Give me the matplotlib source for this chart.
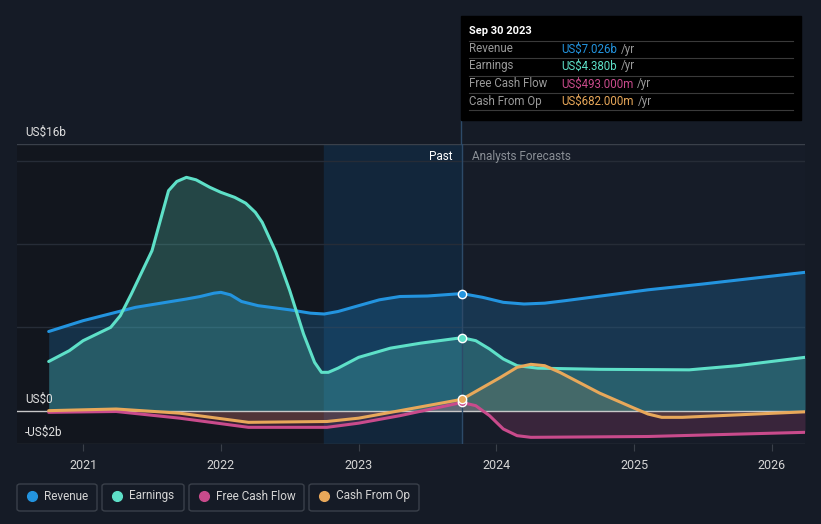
import matplotlib
matplotlib.use("Agg")
import matplotlib.pyplot as plt
from matplotlib.patches import FancyBboxPatch, Rectangle

plt.rcParams['font.family'] = ['Roboto', 'DejaVu Sans']

# data (US$ billions), x in decimal years
rev_x = [2020.75, 2021.0, 2021.38, 2021.75, 2021.85, 2021.95, 2022.0, 2022.07, 2022.15, 2022.27,
         2022.5, 2022.65, 2022.75, 2022.85, 2023.0, 2023.15, 2023.3, 2023.5, 2023.75, 2023.9,
         2024.05, 2024.2, 2024.35, 2024.5, 2025.1, 2025.5, 2026.24]
rev_y = [4.75, 5.4, 6.2, 6.7, 6.85, 7.05, 7.1, 6.95, 6.55, 6.3,
         6.05, 5.85, 5.8, 5.95, 6.3, 6.65, 6.85, 6.88, 7.026, 6.8,
         6.5, 6.4, 6.45, 6.6, 7.25, 7.6, 8.3]

earn_x = [2020.75, 2020.9, 2021.0, 2021.1, 2021.2, 2021.27, 2021.35, 2021.5, 2021.62, 2021.68,
          2021.75, 2021.82, 2021.92, 2022.0, 2022.1, 2022.18, 2022.25, 2022.3, 2022.4, 2022.5,
          2022.6, 2022.68, 2022.73, 2022.78, 2022.85, 2023.0, 2023.23, 2023.45, 2023.75, 2023.85,
          2023.95, 2024.05, 2024.15, 2024.3, 2024.75, 2025.4, 2025.75, 2026.24]
earn_y = [2.95, 3.6, 4.2, 4.6, 5.0, 5.7, 7.0, 9.6, 13.2, 13.75,
          14.0, 13.85, 13.4, 13.1, 12.8, 12.45, 11.9, 11.3, 9.5, 7.2,
          4.6, 2.9, 2.3, 2.3, 2.55, 3.2, 3.75, 4.05, 4.38, 4.2,
          3.7, 3.1, 2.7, 2.55, 2.48, 2.45, 2.7, 3.2]

fcf_x = [2020.75, 2021.24, 2021.7, 2022.2, 2022.5, 2022.77, 2023.0, 2023.3, 2023.75, 2023.85,
         2023.95, 2024.05, 2024.15, 2024.25, 2025.1, 2026.24]
fcf_y = [-0.1, -0.05, -0.45, -1.0, -1.0, -1.0, -0.75, -0.3, 0.493, 0.3,
         -0.3, -1.1, -1.5, -1.6, -1.55, -1.3]

cfo_x = [2020.75, 2021.24, 2021.7, 2022.2, 2022.77, 2023.0, 2023.3, 2023.75, 2024.03, 2024.15,
         2024.25, 2024.35, 2024.46, 2024.75, 2025.0, 2025.1, 2025.2, 2025.35, 2026.24]
cfo_y = [0.0, 0.1, -0.15, -0.7, -0.65, -0.45, 0.0, 0.682, 2.0, 2.6,
         2.78, 2.7, 2.3, 1.05, 0.15, -0.2, -0.4, -0.4, -0.07]

years = [2021, 2022, 2023, 2024, 2025, 2026]
now = 2023.75

c_rev = '#2394df'
c_earn = '#5ee0c8'
c_fcf = '#c94b8c'
c_cfo = '#e8a85a'
bg = '#151b26'

fig = plt.figure(figsize=(8.21, 5.24), dpi=100, facecolor=bg)
ax = fig.add_axes([17/821, 80/524, 788/821, 300/524])
ax.set_facecolor('#161c28')
ax.set_xlim(2020.52, 2026.24)
ax.set_ylim(-2, 16)

# background regions
ax.axvspan(2020.52, 2022.75, color='#12161e', zorder=0)
ax.axvspan(2022.75, now, color='#12263b', zorder=0)

for g in [5, 10, 15]:
    ax.axhline(g, color='#262c37', lw=1, zorder=1)
ax.axhline(16, color='#3a404a', lw=1, zorder=1)
ax.axhline(-2, color='#3a404a', lw=1, zorder=1)

series = [(rev_x, rev_y, c_rev, 0.22), (earn_x, earn_y, c_earn, 0.24),
          (fcf_x, fcf_y, c_fcf, 0.2), (cfo_x, cfo_y, c_cfo, 0.15)]
for xs, ys, c, a in series:
    ax.fill_between(xs, ys, 0, color=c, alpha=a, lw=0, zorder=2)
for xs, ys, c, a in series:
    ax.plot(xs, ys, color=c, lw=2.2, zorder=4, solid_capstyle='round', solid_joinstyle='round')

ax.axhline(0, color='#c8c8c8', lw=1, zorder=3)

vals = [7.026, 4.38, 0.493, 0.682]
for v, c in zip(vals, [c_rev, c_earn, c_fcf, c_cfo]):
    ax.plot([now], [v], 'o', ms=6, color=c, mec='white', mew=1, zorder=5)

ax.axvline(now, color='#2d4a68', lw=1, zorder=3)

for s in ax.spines.values():
    s.set_visible(False)
ax.set_yticks([])
ax.set_xticks(years)
ax.set_xticklabels([str(y) for y in years])
ax.tick_params(axis='x', colors='#3a404a', labelcolor='#d5d5d5', labelsize=9, length=5, pad=6)

ax.text(2023.68, 15.25, 'Past', color='white', fontsize=8.5, ha='right', va='center')
ax.text(2023.82, 15.25, 'Analysts Forecasts', color='#8a8f96', fontsize=8.5, ha='left', va='center')

fig.text(25/821, 1 - 132/524, 'US$16b', color='#e0e0e0', fontsize=8.5, va='center')
fig.text(25/821, 1 - 399/524, 'US$0', color='#e0e0e0', fontsize=8.5, va='center')
fig.text(25/821, 1 - 432/524, '-US$2b', color='#e0e0e0', fontsize=8.5, va='center')

# tooltip
fig.add_artist(Rectangle((461/821, 1 - 120/524), 340/821, 104/524,
                         transform=fig.transFigure, color='black', zorder=10))
fig.add_artist(plt.Line2D([461/821] * 2, [1 - 144/524, 1 - 120/524],
                          transform=fig.transFigure, color='#2d4a68', lw=1))
fig.text(469/821, 1 - 31/524, 'Sep 30 2023', color='white', fontsize=8, fontweight='bold',
         va='center', zorder=11)
for yy in [41, 58, 76, 93, 110]:
    fig.add_artist(plt.Line2D([469/821, 793/821], [1 - yy/524] * 2, transform=fig.transFigure,
                              color='#3a3a3a', lw=0.8, zorder=11))
rows = [('Revenue', 'US$7.026b', c_rev, 49), ('Earnings', 'US$4.380b', c_earn, 66),
        ('Free Cash Flow', 'US$493.000m', c_fcf, 84), ('Cash From Op', 'US$682.000m', c_cfo, 101)]
for name, val, c, yy in rows:
    fig.text(469/821, 1 - yy/524, name, color='#9a9a9a', fontsize=8.3, va='center', zorder=11)
    t = fig.text(561/821, 1 - yy/524, val, color=c, fontsize=8.3, va='center', zorder=11)
    fig.canvas.draw()
    bb = t.get_window_extent()
    fig.text(bb.x1 / 821 + 4/821, 1 - yy/524, '/yr', color='#9a9a9a', fontsize=8.3,
             va='center', zorder=11)

# legend
leg = [('Revenue', c_rev, 17, 97), ('Earnings', c_earn, 102, 184),
       ('Free Cash Flow', c_fcf, 189, 304), ('Cash From Op', c_cfo, 309, 419)]
for name, c, x0, x1 in leg:
    fig.add_artist(FancyBboxPatch((x0/821, 1 - 511/524), (x1 - x0)/821, 27/524,
                                  boxstyle='round,pad=0,rounding_size=0.004',
                                  transform=fig.transFigure, fc='none', ec='#3a404a', lw=1))
    fig.add_artist(plt.Line2D([(x0 + 15)/821], [1 - 496/524], marker='o', ms=7, color=c,
                              transform=fig.transFigure))
    fig.text((x0 + 27)/821, 1 - 496/524, name, color='#d5d5d5', fontsize=8.5, va='center')

fig.savefig('out.png', dpi=100, facecolor=bg)
